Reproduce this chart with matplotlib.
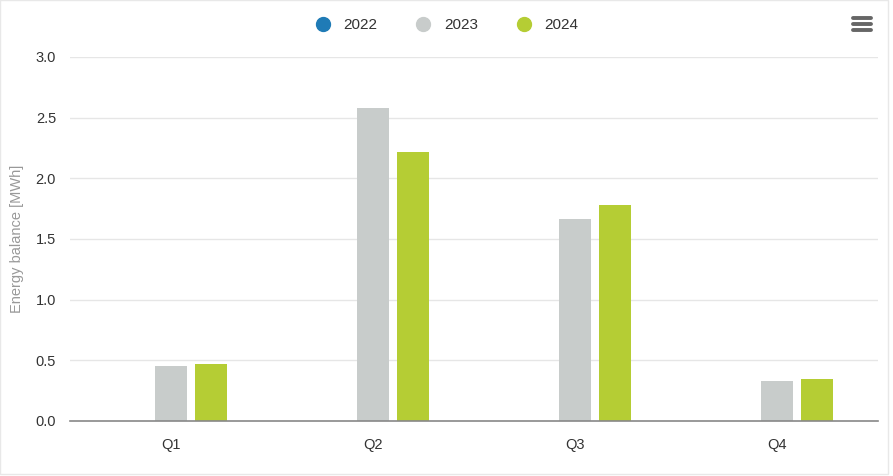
import matplotlib
matplotlib.use("Agg")
import matplotlib.pyplot as plt
from matplotlib.lines import Line2D
from matplotlib.patches import Rectangle
import numpy as np

plt.rcParams['font.family'] = ['Liberation Sans', 'DejaVu Sans']

categories = ["Q1", "Q2", "Q3", "Q4"]
series_names = ["2022", "2023", "2024"]
values_2022 = [0.0, 0.0, 0.0, 0.0]
values_2023 = [0.45, 2.58, 1.665, 0.33]
values_2024 = [0.47, 2.22, 1.78, 0.35]
colors = ["#1f7bb6", "#c8cccb", "#b5cd34"]
yticks = [0.0, 0.5, 1.0, 1.5, 2.0, 2.5, 3.0]

W, H = 893, 476
fig = plt.figure(figsize=(W / 100, H / 100), dpi=100)
ax = fig.add_axes([70 / W, (H - 421) / H, (878 - 70) / W, (421 - 57) / H])

x = np.arange(len(categories))
bw = 0.155
offs = [-0.198, 0.0, 0.198]
for vals, off, c in zip([values_2022, values_2023, values_2024], offs, colors):
    ax.bar(x + off, vals, width=bw, color=c, zorder=3)

ax.set_xlim(-0.5, len(categories) - 0.5)
ax.set_ylim(0, 3.0)
ax.set_yticks(yticks)
ax.set_yticklabels([f"{v:.1f}" for v in yticks], fontsize=10.5, color="#333333")
ax.set_xticks(x)
ax.set_xticklabels(categories, fontsize=10.5, color="#333333")
ax.tick_params(axis='both', length=0, pad=10)
ax.tick_params(axis='x', pad=12)
ax.grid(axis='y', color="#e6e6e6", linewidth=1, zorder=0)
for s in ["top", "right", "left"]:
    ax.spines[s].set_visible(False)
ax.spines["bottom"].set_color("#888888")
ax.spines["bottom"].set_linewidth(1.2)
ax.spines["bottom"].set_zorder(4)
ax.set_ylabel("Energy balance [MWh]", fontsize=10.5, color="#999999", labelpad=8)

handles = [Line2D([0], [0], marker='o', linestyle='none', markersize=10,
                  markerfacecolor=c, markeredgecolor=c) for c in colors]
fig.legend(handles, series_names, loc='center', bbox_to_anchor=(443 / W, 1 - 25 / H),
           ncol=3, frameon=False, fontsize=11, handletextpad=0.35, columnspacing=2.0,
           labelcolor="#333333")

# menu icon
for yy in [18, 24, 30]:
    fig.add_artist(Line2D([853 / W, 871 / W], [1 - yy / H, 1 - yy / H], color="#666666",
                          linewidth=2.8, solid_capstyle='round'))

# outer border
fig.add_artist(Rectangle((0, 2 / H), 888 / W, 1 - 2 / H, transform=fig.transFigure,
                         fill=False, edgecolor="#e8e8e8", linewidth=1))

fig.savefig("out.png", dpi=100)
